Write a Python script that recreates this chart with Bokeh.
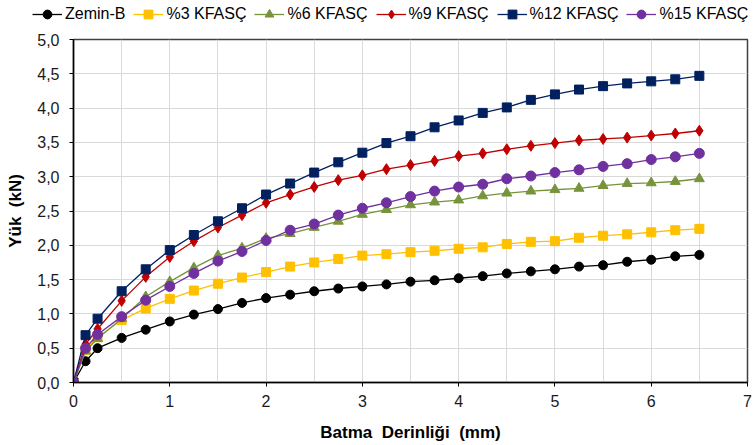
from bokeh.plotting import figure
from bokeh.models import (Range1d, FixedTicker, CustomJSTickFormatter, Legend, LegendItem)
from bokeh.layouts import column
from bokeh.embed import file_html
from bokeh.resources import INLINE
import numpy as np

# ---- data ----
depth = [0, 0.125, 0.25, 0.5, 0.75, 1.0, 1.25, 1.5, 1.75, 2.0, 2.25, 2.5, 2.75, 3.0,
         3.25, 3.5, 3.75, 4.0, 4.25, 4.5, 4.75, 5.0, 5.25, 5.5, 5.75, 6.0, 6.25, 6.5]
zemin_b = [0, 0.31, 0.50, 0.65, 0.77, 0.89, 0.99, 1.07, 1.16, 1.23, 1.28, 1.33, 1.37, 1.40,
           1.43, 1.47, 1.49, 1.52, 1.55, 1.59, 1.62, 1.65, 1.69, 1.71, 1.76, 1.79, 1.84, 1.86]
kfasc3 = [0, 0.47, 0.66, 0.91, 1.08, 1.22, 1.34, 1.44, 1.53, 1.61, 1.69, 1.75, 1.80, 1.85,
          1.87, 1.90, 1.92, 1.95, 1.97, 2.02, 2.05, 2.06, 2.11, 2.14, 2.16, 2.19, 2.22, 2.24]
kfasc6 = [0, 0.46, 0.64, 0.93, 1.25, 1.47, 1.67, 1.85, 1.96, 2.10, 2.17, 2.26, 2.35, 2.45,
          2.52, 2.59, 2.63, 2.66, 2.72, 2.76, 2.79, 2.81, 2.83, 2.87, 2.90, 2.91, 2.93, 2.97]
kfasc9 = [0, 0.56, 0.78, 1.19, 1.54, 1.83, 2.06, 2.26, 2.44, 2.62, 2.74, 2.85, 2.95, 3.02,
          3.11, 3.17, 3.23, 3.30, 3.34, 3.40, 3.45, 3.49, 3.53, 3.55, 3.57, 3.60, 3.63, 3.67]
kfasc12 = [0, 0.69, 0.93, 1.33, 1.65, 1.93, 2.15, 2.35, 2.54, 2.74, 2.90, 3.06, 3.21, 3.35,
           3.49, 3.59, 3.72, 3.82, 3.93, 4.01, 4.12, 4.20, 4.27, 4.32, 4.36, 4.39, 4.42, 4.47]
kfasc15 = [0, 0.50, 0.70, 0.96, 1.20, 1.40, 1.59, 1.77, 1.91, 2.07, 2.22, 2.31, 2.44, 2.54,
           2.62, 2.71, 2.79, 2.85, 2.89, 2.97, 3.01, 3.06, 3.10, 3.15, 3.19, 3.25, 3.29, 3.34]

series_names = ["Zemin-B", "%3 KFASÇ", "%6 KFASÇ", "%9 KFASÇ", "%12 KFASÇ", "%15 KFASÇ"]
series_values = [zemin_b, kfasc3, kfasc6, kfasc9, kfasc12, kfasc15]
series_colors = ["#000000", "#FFC000", "#77933C", "#C00000", "#002060", "#7030A0"]
series_markers = ["circle", "square", "triangle", "diamond", "square", "circle"]
marker_sizes = [9, 9, 10, 11, 9, 10]

x_label = "Batma\u00a0 Derinliği\u00a0 (mm)"
y_label = "Yük\u00a0 (kN)"

FONT = "Liberation Sans"

# ---------------- main chart ----------------
p = figure(width=752, height=413, output_backend="svg", toolbar_location=None,
           x_range=Range1d(0, 7), y_range=Range1d(0, 5),
           min_border_left=73, min_border_right=5, min_border_top=8, min_border_bottom=62)
p.background_fill_color = "white"
p.border_fill_color = "white"
p.outline_line_color = "#404040"
p.outline_line_width = 1.5

p.xgrid.ticker = FixedTicker(ticks=list(np.arange(0, 7.01, 0.5)))
p.ygrid.ticker = FixedTicker(ticks=list(np.arange(0, 5.01, 0.5)))
for g in (p.xgrid, p.ygrid):
    g.grid_line_color = "#d9d9d9"
    g.grid_line_width = 1

p.xaxis.ticker = FixedTicker(ticks=list(range(0, 8)))
p.yaxis.ticker = FixedTicker(ticks=list(np.arange(0, 5.01, 0.5)))
p.yaxis.formatter = CustomJSTickFormatter(code="return tick.toFixed(1).replace('.', ',');")
for ax in (p.xaxis, p.yaxis):
    ax.axis_line_color = "black"
    ax.axis_line_width = 1.5
    ax.major_tick_line_color = "black"
    ax.major_tick_in = 0
    ax.major_tick_out = 4
    ax.minor_tick_line_color = None
    ax.major_label_text_font = FONT
    ax.major_label_text_font_size = "16px"
    ax.major_label_text_color = "#1a1a1a"
    ax.axis_label_text_font = FONT
    ax.axis_label_text_font_size = "17px"
    ax.axis_label_text_font_style = "bold"
    ax.axis_label_text_color = "black"
p.xaxis.major_label_standoff = 8
p.yaxis.major_label_standoff = 10
p.xaxis.axis_label = x_label
p.yaxis.axis_label = y_label
p.xaxis.axis_label_standoff = 13
p.yaxis.axis_label_standoff = 9

for vals, col, mk, ms in zip(series_values, series_colors, series_markers, marker_sizes):
    p.line(depth, vals, line_color=col, line_width=1.3)
    p.scatter(depth, vals, marker=mk, size=ms, fill_color=col, line_color=col)

# ---------------- legend strip (same series, styles only) ----------------
lg = figure(width=754, height=31, output_backend="svg", toolbar_location=None,
            x_range=Range1d(100, 101), y_range=Range1d(100, 101),
            min_border_left=0, min_border_right=0, min_border_top=0, min_border_bottom=0)
lg.axis.visible = False
lg.grid.visible = False
lg.outline_line_color = None
lg.background_fill_color = "white"
lg.border_fill_color = "white"

legend_left = 32
try:
    lg.frame_align = False
    p.frame_align = False
except Exception:
    legend_left = 32 - 73

items = []
for name, vals, col, mk, ms in zip(series_names, series_values, series_colors,
                                   series_markers, marker_sizes):
    ln = lg.line(depth, vals, line_color=col, line_width=1.3)
    sc = lg.scatter(depth, vals, marker=mk, size=ms, fill_color=col, line_color=col)
    items.append(LegendItem(label=name, renderers=[ln, sc]))

legend = Legend(items=items, orientation="horizontal", location=(legend_left, 6),
                background_fill_alpha=0, border_line_color=None,
                padding=0, margin=0, spacing=8, label_standoff=3,
                glyph_width=30, glyph_height=22,
                label_text_font=FONT, label_text_font_size="16px",
                label_text_color="black", label_height=16)
lg.add_layout(legend, "center")

layout = column(lg, p, spacing=0)
open("out.html", "w").write(file_html(layout, INLINE))
